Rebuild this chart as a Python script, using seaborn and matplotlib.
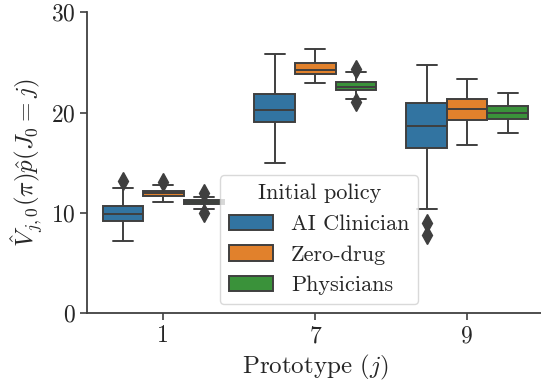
import matplotlib
matplotlib.use("Agg")
import matplotlib.pyplot as plt
import seaborn as sns
import pandas as pd

# ---- values ----
prototypes = ["1", "7", "9"]
policies = ["AI Clinician", "Zero-drug", "Physicians"]

# five-number summaries per policy, one entry per prototype (1, 7, 9)
ai_low = [7.25, 14.95, 10.37]
ai_q1 = [9.20, 19.07, 16.48]
ai_med = [9.94, 20.30, 18.67]
ai_q3 = [10.67, 21.83, 20.90]
ai_high = [12.50, 25.80, 24.73]
ai_out = [[13.2], [], [9.0, 7.78]]

zero_low = [11.10, 22.90, 16.78]
zero_q1 = [11.70, 23.86, 19.27]
zero_med = [11.96, 24.23, 20.40]
zero_q3 = [12.20, 24.90, 21.37]
zero_high = [12.80, 26.30, 23.30]
zero_out = [[13.05], [], []]

phys_low = [10.37, 21.37, 17.98]
phys_q1 = [10.87, 22.23, 19.37]
phys_med = [11.07, 22.50, 20.00]
phys_q3 = [11.27, 23.00, 20.64]
phys_high = [11.63, 24.00, 21.93]
phys_out = [[10.0, 12.03], [21.0, 24.33], []]

stats = {
    "AI Clinician": (ai_low, ai_q1, ai_med, ai_q3, ai_high, ai_out),
    "Zero-drug": (zero_low, zero_q1, zero_med, zero_q3, zero_high, zero_out),
    "Physicians": (phys_low, phys_q1, phys_med, phys_q3, phys_high, phys_out),
}


def sample_for(low, q1, med, q3, high, outs):
    """Sorted sample whose box statistics equal the given summary."""
    below = sorted([o for o in outs if o < q1]) + [low]
    above = [high] + sorted([o for o in outs if o > q3])
    k = max(len(below), len(above))
    below = below + [low] * (k - len(below))
    above = [high] * (k - len(above)) + above
    return sorted(below) + [q1] * k + [med] + [q3] * k + sorted(above)


rows = []
for pol in policies:
    lo, a, m, b, hi, out = stats[pol]
    for i, proto in enumerate(prototypes):
        for v in sample_for(lo[i], a[i], m[i], b[i], hi[i], out[i]):
            rows.append({"Prototype": proto, "Initial policy": pol, "value": v})
df = pd.DataFrame(rows)

# ---- style ----
sns.set_style("ticks")
plt.rcParams["font.family"] = "serif"
plt.rcParams["font.serif"] = ["cmr10"]
plt.rcParams["mathtext.fontset"] = "cm"
plt.rcParams["axes.unicode_minus"] = False
plt.rcParams["axes.formatter.use_mathtext"] = True

fig = plt.figure(figsize=(5.41, 3.92), dpi=100)
ax = fig.add_axes([0.1614, 0.2008, 1.004 - 0.1614, 0.969 - 0.2008])

sns.boxplot(
    data=df, x="Prototype", y="value", hue="Initial policy",
    order=prototypes, hue_order=policies, palette="tab10",
    width=0.8, linewidth=1.4, linecolor="#3f3f3f", ax=ax,
    flierprops=dict(marker="d", markersize=9, markerfacecolor="#3f3f3f",
                    markeredgecolor="#3f3f3f"),
)

ax.set_ylim(0, 30)
ax.set_yticks([0, 10, 20, 30])
ax.set_xlim(-0.5, 2.5)
sns.despine(ax=ax)
for s in ["left", "bottom"]:
    ax.spines[s].set_color("#404040")
    ax.spines[s].set_linewidth(1.3)
ax.tick_params(axis="both", labelsize=17, length=5, width=1.2, color="#404040",
               labelcolor="#262626")

ax.set_xlabel("Prototype ($j$)", fontsize=18, color="#262626")
ax.set_ylabel(r"$\hat{V}_{j,0}(\pi)\hat{p}(J_0=j)$", fontsize=18, color="#262626")

sns.move_legend(ax, loc="upper left", bbox_to_anchor=(0.291, 0.459),
                borderaxespad=0, title="Initial policy", frameon=True,
                fontsize=16, title_fontsize=16)
leg = ax.get_legend()
leg.get_frame().set_edgecolor("#d0d0d0")

fig.savefig("out.png", dpi=100)
